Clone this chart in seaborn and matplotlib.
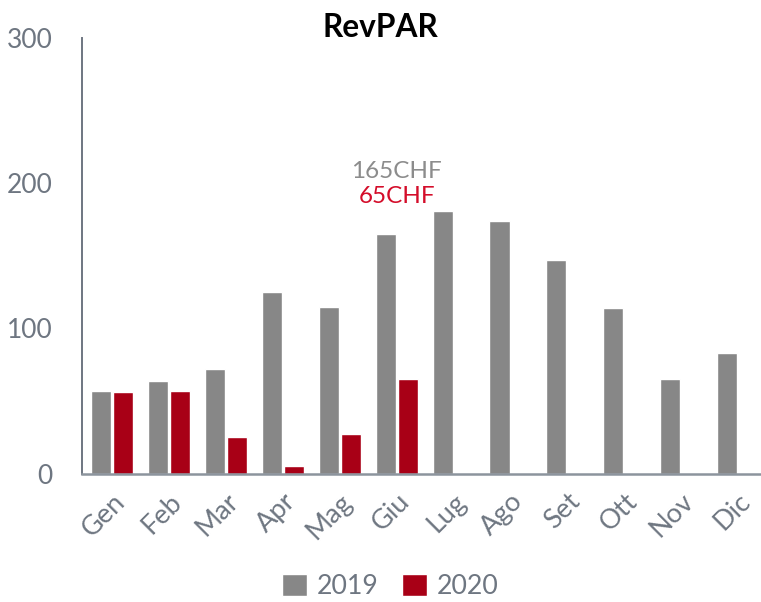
import matplotlib
matplotlib.use('Agg')
import matplotlib.pyplot as plt
import pandas as pd
import seaborn as sns

# RevPAR per month, CHF
months = ['Gen', 'Feb', 'Mar', 'Apr', 'Mag', 'Giu', 'Lug', 'Ago', 'Set', 'Ott', 'Nov', 'Dic']
rev_2019 = [57, 64, 72, 125, 115, 165, 181, 174, 147, 114, 65, 83]
rev_2020 = [56, 57, 25, 5, 27, 65]
years = ['2019', '2020']

rows = [(m, '2019', v) for m, v in zip(months, rev_2019)]
rows += [(m, '2020', v) for m, v in zip(months, rev_2020)]
df = pd.DataFrame(rows, columns=['mese', 'anno', 'revpar'])

sns.set_style('white')
plt.rcParams['font.family'] = ['Lato', 'DejaVu Sans']

axis_col = '#6e7681'
gray = '#878787'
red = '#a80016'

fig = plt.figure(figsize=(7.61, 6.02), dpi=100)
ax = fig.add_axes([81.5 / 761, 1 - 473.5 / 602, 679.5 / 761, 435 / 602])

sns.barplot(data=df, x='mese', y='revpar', hue='anno', order=months, hue_order=years,
            palette=[gray, red], width=0.773, gap=0.09, saturation=1, ax=ax)

ax.set_xlim(-0.535, 11.40)
ax.set_ylim(0, 300)
ax.set_yticks([0, 100, 200, 300])
ax.set_xlabel('')
ax.set_ylabel('')

for s in ['top', 'right']:
    ax.spines[s].set_visible(False)
ax.spines['left'].set_color(axis_col)
ax.spines['left'].set_linewidth(1.4)
ax.spines['bottom'].set_color('#8c949d')
ax.spines['bottom'].set_linewidth(1.8)

ax.tick_params(axis='y', length=0, pad=21, labelsize=19, labelcolor=axis_col)
ax.tick_params(axis='x', length=0, pad=11, labelsize=19.5, labelcolor=axis_col)
for lbl in ax.get_xticklabels():
    lbl.set_rotation(45)
    lbl.set_ha('right')
    lbl.set_rotation_mode('anchor')

# annotation above Giu
i = months.index('Giu')
ax.text(i, 208, f'{rev_2019[i]}CHF', ha='center', va='center', fontsize=17.5, color='#8c8c8c')
ax.text(i, 191, f'{rev_2020[i]}CHF', ha='center', va='center', fontsize=17.5, color='#d40d2a')

fig.text(0.5, 0.955, 'RevPAR', ha='center', va='center', fontsize=22.8, fontweight='bold', color='black')

handles, labels = ax.get_legend_handles_labels()
ax.get_legend().remove()
fig.legend(handles, labels, loc='center', bbox_to_anchor=(0.513, 0.026), ncol=2, frameon=False,
           fontsize=19.3, labelcolor=axis_col, handlelength=0.93, handleheight=0.93,
           handletextpad=0.37, columnspacing=0.86, borderpad=0.1)

fig.savefig('out.png', dpi=100)
